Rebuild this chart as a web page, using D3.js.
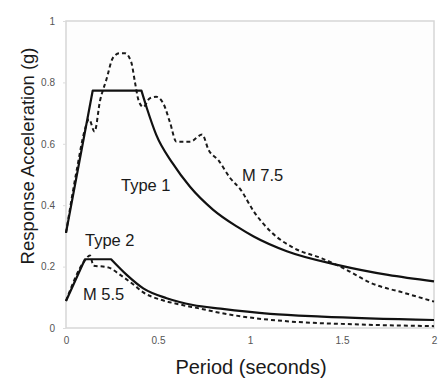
<!DOCTYPE html>
<html>
<head>
<meta charset="utf-8">
<script src="https://cdn.jsdelivr.net/npm/d3@7"></script>
<style>
  html, body { margin: 0; padding: 0; background: #fff; }
  svg { display: block; font-family: "Liberation Sans", Arial, sans-serif; }
</style>
</head>
<body>
<div id="chart"></div>
<script>
// [period (s), acceleration (g)]
const type1Spectrum = [[0, 0.31], [0.145, 0.773], [0.41, 0.773], [0.44, 0.715], [0.49, 0.63],
  [0.58, 0.536], [0.674, 0.46], [0.8, 0.385], [0.93, 0.33], [1.02, 0.298], [1.2, 0.25],
  [1.48, 0.205], [1.75, 0.173], [2.0, 0.152]];

const m75Spectrum = [[0, 0.31], [0.06, 0.52], [0.1, 0.64], [0.125, 0.68], [0.155, 0.64],
  [0.185, 0.74], [0.22, 0.81], [0.255, 0.88], [0.29, 0.895], [0.32, 0.895], [0.355, 0.865],
  [0.375, 0.8], [0.395, 0.74], [0.42, 0.72], [0.455, 0.748], [0.49, 0.753], [0.53, 0.73],
  [0.565, 0.67], [0.6, 0.607], [0.675, 0.607], [0.74, 0.63], [0.775, 0.58], [0.83, 0.545],
  [0.89, 0.49], [0.95, 0.45], [1.02, 0.38], [1.12, 0.31], [1.24, 0.26], [1.39, 0.227],
  [1.51, 0.194], [1.66, 0.146], [1.84, 0.114], [2.0, 0.086]];

const type2Spectrum = [[0, 0.088], [0.103, 0.224], [0.245, 0.224], [0.33, 0.173], [0.42, 0.129],
  [0.547, 0.097], [0.69, 0.075], [0.84, 0.063], [1.11, 0.046], [1.39, 0.037], [2.0, 0.026]];

const m55Spectrum = [[0, 0.088], [0.1, 0.218], [0.13, 0.236], [0.15, 0.203], [0.2, 0.2],
  [0.24, 0.195], [0.29, 0.175], [0.37, 0.14], [0.42, 0.116], [0.51, 0.093], [0.6, 0.079],
  [0.73, 0.063], [0.84, 0.049], [1.0, 0.034], [1.2, 0.022], [1.57, 0.012], [2.0, 0.006]];

const xTicks = [0, 0.5, 1, 1.5, 2];
const yTicks = [0, 0.2, 0.4, 0.6, 0.8, 1];
const xTickLabels = ['0', '0.5', '1', '1.5', '2'];
const yTickLabels = ['0', '0.2', '0.4', '0.6', '0.8', '1'];

const width = 442;
const height = 379;
const margin = { top: 21, right: 8, bottom: 51, left: 66 };

const svg = d3.select('#chart')
  .append('svg')
  .attr('width', width)
  .attr('height', height);

const x = d3.scaleLinear().domain([0, 2]).range([margin.left, width - margin.right]);
const y = d3.scaleLinear().domain([0, 1]).range([height - margin.bottom, margin.top]);

// frame
svg.append('rect')
  .attr('x', x(0))
  .attr('y', y(1))
  .attr('width', x(2) - x(0))
  .attr('height', y(0) - y(1))
  .attr('fill', '#fdfdfd')
  .attr('stroke', '#d6d6d6')
  .attr('stroke-width', 1.5);

const xAxis = svg.append('g')
  .attr('transform', `translate(0,${y(0)})`)
  .call(d3.axisBottom(x).tickValues(xTicks).tickSize(0).tickPadding(9)
    .tickFormat((d, i) => xTickLabels[i]));

const yAxis = svg.append('g')
  .attr('transform', `translate(${x(0)},0)`)
  .call(d3.axisLeft(y).tickValues(yTicks).tickSize(3).tickPadding(8)
    .tickFormat((d, i) => yTickLabels[i]));

[xAxis, yAxis].forEach(g => {
  g.select('.domain').remove();
  g.selectAll('line').attr('stroke', '#dcdcdc');
  g.selectAll('text')
    .attr('fill', '#555')
    .style('font-size', '10px')
    .style('font-family', '"Liberation Sans", Arial, sans-serif');
});

const linear = d3.line().x(d => x(d[0])).y(d => y(d[1]));
const smooth = d3.line().x(d => x(d[0])).y(d => y(d[1])).curve(d3.curveMonotoneX);

// code spectra: straight ramp + plateau, then smooth decay
function drawCode(data, plateauEnd) {
  svg.append('path')
    .attr('d', linear(data.slice(0, plateauEnd + 1)) + smooth(data.slice(plateauEnd)).replace(/^M/, 'L'))
    .attr('fill', 'none')
    .attr('stroke', '#111')
    .attr('stroke-width', 2.2)
    .attr('stroke-linejoin', 'round');
}

function drawRecord(data) {
  svg.append('path')
    .attr('d', smooth(data))
    .attr('fill', 'none')
    .attr('stroke', '#1a1a1a')
    .attr('stroke-width', 2)
    .attr('stroke-dasharray', '4,3');
}

drawRecord(m75Spectrum);
drawRecord(m55Spectrum);
drawCode(type1Spectrum, 2);
drawCode(type2Spectrum, 2);

const labels = [
  { text: 'Type 1', x: 121, y: 191 },
  { text: 'M 7.5', x: 242, y: 181 },
  { text: 'Type 2', x: 85, y: 246 },
  { text: 'M 5.5', x: 83, y: 300 }
];

svg.selectAll('.curve-label')
  .data(labels)
  .enter()
  .append('text')
  .attr('class', 'curve-label')
  .attr('x', d => d.x)
  .attr('y', d => d.y)
  .attr('fill', '#1a1a1a')
  .style('font-size', '16.5px')
  .text(d => d.text);

svg.append('text')
  .attr('x', 251)
  .attr('y', 374)
  .attr('text-anchor', 'middle')
  .attr('fill', '#1a1a1a')
  .style('font-size', '20px')
  .text('Period (seconds)');

svg.append('text')
  .attr('transform', 'translate(34,156) rotate(-90)')
  .attr('text-anchor', 'middle')
  .attr('fill', '#1a1a1a')
  .style('font-size', '18.5px')
  .text('Response Acceleration (g)');
</script>
</body>
</html>
